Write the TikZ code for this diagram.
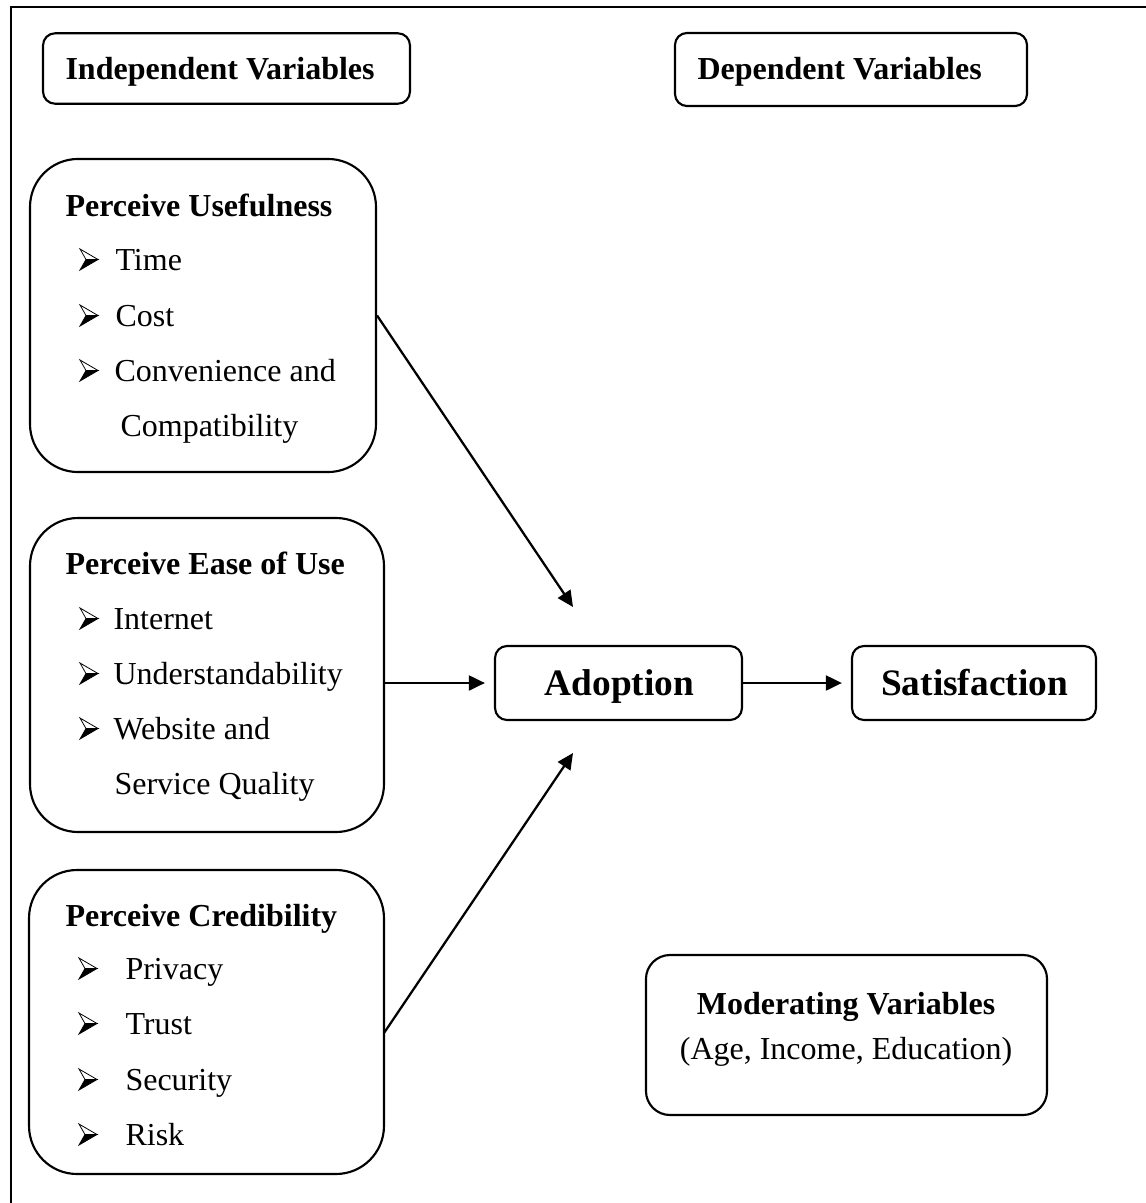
\documentclass[tikz,border=0pt]{standalone}
\usepackage{fontspec}
\setmainfont{Liberation Serif}
\usetikzlibrary{arrows.meta,calc}
\begin{document}
\begin{tikzpicture}[x=0.375pt,y=-0.375pt,
  rbox/.style={draw, line width=0.8pt, inner sep=0pt, rounded corners=#1},
  txt/.style={inner sep=0pt, anchor=base west, font=\fontsize{12}{14}\selectfont},
  ttl/.style={inner sep=0pt, anchor=base west, font=\fontsize{12}{14}\selectfont\bfseries},
  ctitle/.style={inner sep=0pt, anchor=base, font=\fontsize{12}{14}\selectfont\bfseries},
  ctxt/.style={inner sep=0pt, anchor=base, font=\fontsize{12}{14}\selectfont},
  big/.style={inner sep=0pt, anchor=base, font=\fontsize{14}{16}\selectfont\bfseries},
  conn/.style={line width=0.85pt, -{Triangle[length=6pt,width=5.6pt]}},
  abullet/.pic={
    \filldraw[line width=0.3pt, fill=white, line join=miter] (0,-21) -- (18,-10.5) -- (6,-10.5) -- cycle;
    \filldraw[line width=0.3pt, fill=black, line join=miter] (6,-10.5) -- (18,-10.5) -- (0,0) -- cycle;
  }]
\useasboundingbox (0,0) rectangle (1146,1203);
\fill[white] (0,0) rectangle (1146,1203);
% outer frame (only top and left edges visible)
\draw[line width=1pt] (11,1203) -- (11,7) -- (1146,7);

% header boxes
\node[rbox=4.5pt, minimum width=137.6pt, minimum height=26.4pt] (iv) at (226.5,68.5) {};
\node[ttl] (ivT) at (65,79) {Independent Variables};
\node[rbox=4.5pt, minimum width=132pt, minimum height=27.4pt] (dv) at (851,69.5) {};
\node[ttl] (dvT) at (697,79) {Dependent Variables};

% Perceive Usefulness
\node[rbox=18pt, minimum width=129.75pt, minimum height=117.4pt] (pu) at (203,315.5) {};
\node[ttl] (puT) at (65,216) {Perceive Usefulness};
\pic at (80,270) {abullet};
\node[txt] (pu1) at (115,270) {Time};
\pic at (80,326) {abullet};
\node[txt] (pu2) at (115,326) {Cost};
\pic at (80,381) {abullet};
\node[txt] (pu3) at (114,381) {Convenience and};
\node[txt] (pu4) at (120,436) {Compatibility};

% Perceive Ease of Use
\node[rbox=18pt, minimum width=132.75pt, minimum height=117.75pt] (pe) at (207,675) {};
\node[ttl] (peT) at (65,574) {Perceive Ease of Use};
\pic at (80,629) {abullet};
\node[txt] (pe1) at (113,629) {Internet};
\pic at (80,684) {abullet};
\node[txt] (pe2) at (113,684) {Understandability};
\pic at (80,739) {abullet};
\node[txt] (pe3) at (113,739) {Website and};
\node[txt] (pe4) at (114,794) {Service Quality};

% Perceive Credibility
\node[rbox=18pt, minimum width=133.1pt, minimum height=114pt] (pc) at (206.5,1022) {};
\node[ttl] (pcT) at (65,926) {Perceive Credibility};
\pic at (79,979) {abullet};
\node[txt] (pc1) at (125,979) {Privacy};
\pic at (79,1034) {abullet};
\node[txt] (pc2) at (125,1034) {Trust};
\pic at (79,1090) {abullet};
\node[txt] (pc3) at (125,1090) {Security};
\pic at (79,1145) {abullet};
\node[txt] (pc4) at (125,1145) {Risk};

% Adoption and Satisfaction
\node[rbox=4.5pt, minimum width=92.6pt, minimum height=27.75pt] (ad) at (618.5,683) {};
\node[big] (adT) at (619.5,695) {Adoption};
\node[rbox=4.5pt, minimum width=91.5pt, minimum height=27.75pt] (sa) at (974,683) {};
\node[big] (saT) at (974.5,695) {Satisfaction};

% Moderating Variables
\node[rbox=9pt, minimum width=150.4pt, minimum height=60pt] (mv) at (846.5,1035) {};
\node[ctitle] (mvT) at (846,1014) {Moderating Variables};
\node[ctxt] (mvS) at (846,1059) {(Age, Income, Education)};

% connectors
\coordinate (t1) at (573,607);
\coordinate (t3) at (573,753);
\coordinate (s3) at (384,1033);
\draw[conn] (pu.east) -- (t1);
\draw[conn, shorten >=3.4pt] (pe.east |- ad.west) -- (ad.west);
\draw[conn] (s3) -- (t3);
\draw[conn, shorten >=3.4pt] (ad.east) -- (sa.west);
\end{tikzpicture}
\end{document}
